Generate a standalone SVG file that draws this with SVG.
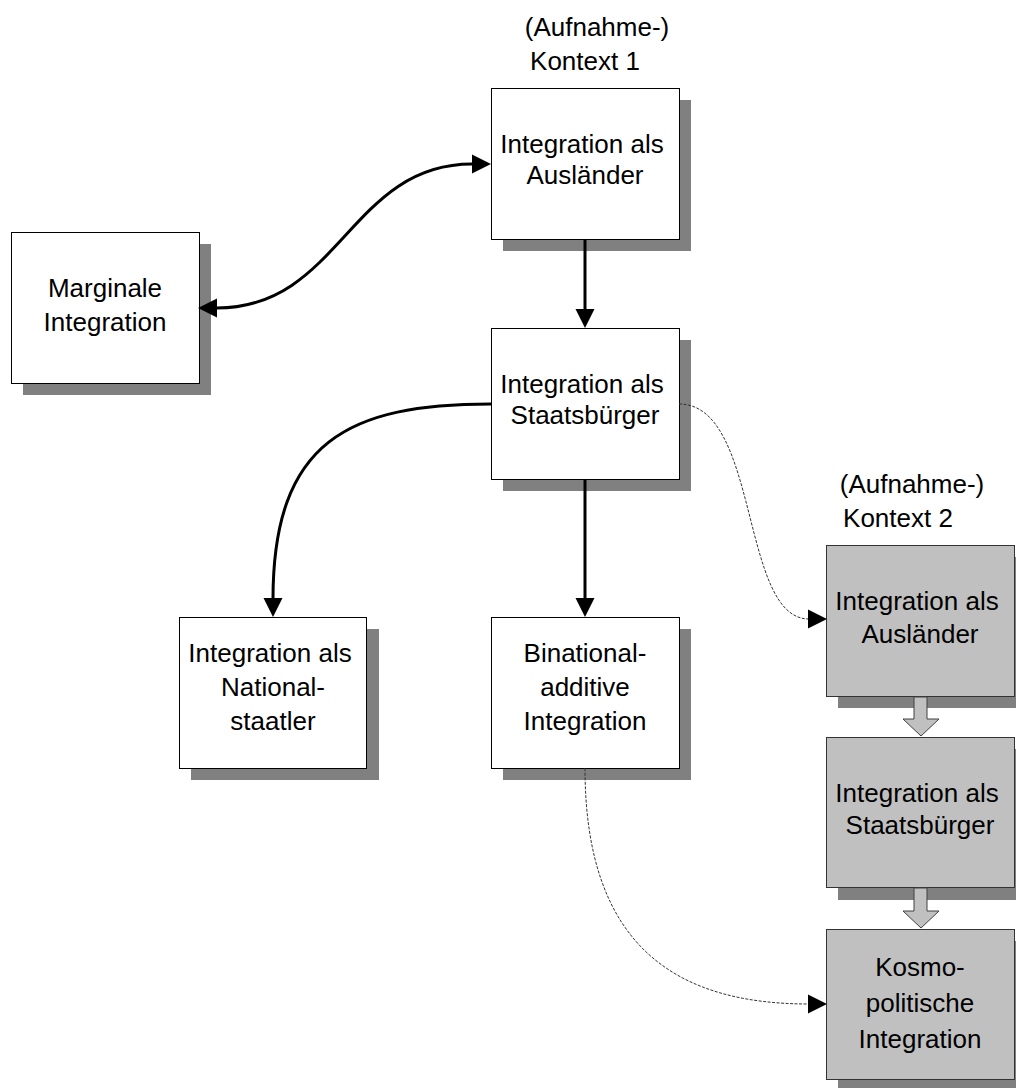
<svg xmlns="http://www.w3.org/2000/svg" width="1016" height="1088" viewBox="0 0 1016 1088">
<style>
text{font-family:"Liberation Sans",Arial,sans-serif;font-size:26px;fill:#000;text-anchor:middle}
.shadow{fill:#808080}
.box{fill:#fff;stroke:#000;stroke-width:1}
.gbox{fill:#c0c0c0;stroke:#333;stroke-width:1}
.thick{fill:none;stroke:#000;stroke-width:3}
.dot{fill:none;stroke:#333;stroke-width:1;stroke-dasharray:3 1.5}
.head{fill:#000}
.hollow{fill:#c0c0c0;stroke:#404040;stroke-width:1}
</style>
<rect width="1016" height="1088" fill="#fff"/>
<g id="label-kontext1">
<text x="597" y="36">(Aufnahme-)</text>
<text x="585" y="70">Kontext 1</text>
</g>
<g id="label-kontext2">
<text x="912" y="493">(Aufnahme-)</text>
<text x="898" y="527">Kontext 2</text>
</g>
<g id="n-auslaender1">
<rect class="shadow" x="503" y="100" width="188" height="151"/>
<rect class="box" x="491.5" y="88.5" width="188" height="151"/>
<text x="582" y="153">Integration als</text>
<text x="585" y="184">Ausländer</text>
</g>
<g id="n-marginal">
<rect class="shadow" x="23" y="244" width="188" height="151"/>
<rect class="box" x="11.5" y="232.5" width="188" height="151"/>
<text x="105" y="297">Marginale</text>
<text x="105" y="331">Integration</text>
</g>
<g id="n-staatsbuerger1">
<rect class="shadow" x="503" y="340" width="188" height="151"/>
<rect class="box" x="491.5" y="328.5" width="188" height="151"/>
<text x="582" y="393">Integration als</text>
<text x="585" y="424">Staatsbürger</text>
</g>
<g id="n-nationalstaatler">
<rect class="shadow" x="191" y="629" width="188" height="151"/>
<rect class="box" x="179.5" y="617.5" width="187" height="151"/>
<text x="270" y="662">Integration als</text>
<text x="273" y="696">National-</text>
<text x="273" y="730">staatler</text>
</g>
<g id="n-binational">
<rect class="shadow" x="503" y="629" width="188" height="151"/>
<rect class="box" x="491.5" y="617.5" width="188" height="151"/>
<text x="585" y="662">Binational-</text>
<text x="585" y="696">additive</text>
<text x="585" y="730">Integration</text>
</g>
<g id="n-auslaender2">
<rect class="shadow" x="838" y="557" width="188" height="151"/>
<rect class="gbox" x="826.5" y="545.5" width="188" height="151"/>
<text x="917" y="610">Integration als</text>
<text x="920" y="643">Ausländer</text>
</g>
<g id="n-staatsbuerger2">
<rect class="shadow" x="838" y="749" width="188" height="151"/>
<rect class="gbox" x="826.5" y="737.5" width="188" height="150"/>
<text x="917" y="802">Integration als</text>
<text x="920" y="834">Staatsbürger</text>
</g>
<g id="n-kosmo">
<rect class="shadow" x="838" y="941" width="188" height="151"/>
<rect class="gbox" x="826.5" y="929.5" width="188" height="150"/>
<text x="920" y="976">Kosmo-</text>
<text x="920" y="1012">politische</text>
<text x="920" y="1048">Integration</text>
</g>
<g id="connectors">
<path class="thick" d="M217,308 C340,308 350,164 472,164"/>
<polygon class="head" points="198,308 217,298.5 217,317.5"/>
<polygon class="head" points="491,164 472,154.5 472,173.5"/>
<path class="thick" d="M585,240 L585,310"/>
<polygon class="head" points="585,328 575.5,309 594.5,309"/>
<path class="thick" d="M585,480 L585,599"/>
<polygon class="head" points="585,617 575.5,598 594.5,598"/>
<path class="thick" d="M491,404 C350,404 273,440 273,599"/>
<polygon class="head" points="273,617 263.5,598 282.5,598"/>
<path class="dot" d="M679,404 C760,404 740,619 809,619"/>
<polygon class="head" points="827,619 808,609.5 808,628.5"/>
<path class="dot" d="M585,768 C585,950 680,1004 809,1004"/>
<polygon class="head" points="827,1004 808,994.5 808,1013.5"/>
<path class="hollow" d="M914,697 L927,697 L927,719 L939,719 L921,736 L903,719 L914,719 Z"/>
<path class="hollow" d="M914,888 L927,888 L927,911 L939,911 L921,928 L903,911 L914,911 Z"/>
</g>
</svg>
